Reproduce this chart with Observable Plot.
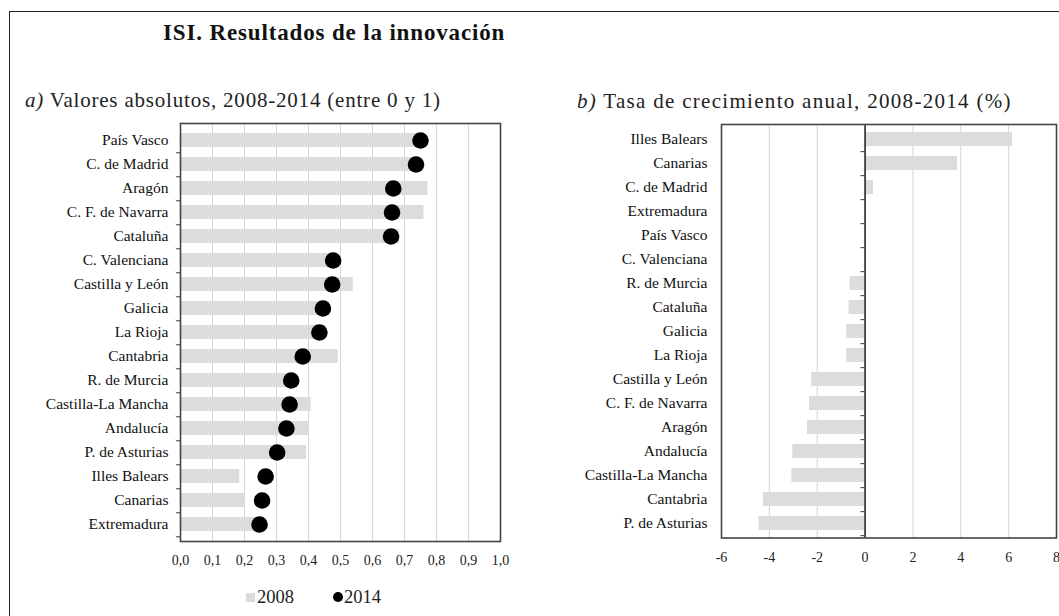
<!DOCTYPE html>
<html>
<head>
<meta charset="utf-8">
<script src="https://cdn.jsdelivr.net/npm/d3@7"></script>
<script src="https://cdn.jsdelivr.net/npm/@observablehq/plot@0.6"></script>
<style>
  html, body { margin: 0; padding: 0; background: #fff; overflow: hidden; }
  body { width: 1059px; height: 616px; position: relative; font-family: "Liberation Serif", "DejaVu Serif", serif; color: #1a1a1a; }
  .abs { position: absolute; white-space: nowrap; line-height: 1; }
  #border { position: absolute; left: 9px; top: 11px; width: 1200px; height: 800px; border: 1.5px solid #222; box-sizing: border-box; }
  #title { left: 163px; top: 21px; font-size: 23px; font-weight: bold; letter-spacing: 0.85px; color: #111; }
  .sub { font-size: 21px; color: #222; }
  #subA { left: 25px; top: 90px; letter-spacing: 0.8px; }
  #subB { left: 577px; top: 91px; letter-spacing: 1.3px; }
  #legend { left: 246px; top: 588px; font-size: 18.5px; color: #222; display: flex; align-items: center; }
  .sq { display: inline-block; width: 9px; height: 9px; background: #dcdcdc; margin-right: 2px; }
  .dt { display: inline-block; width: 10px; height: 10px; border-radius: 50%; background: #000; margin-left: 39px; margin-right: 1px; }
  #plotA { position: absolute; left: 0; top: 110px; }
  #plotB { position: absolute; left: 540px; top: 110px; }
</style>
</head>
<body>
<div id="border"></div>
<div id="title" class="abs">ISI. Resultados de la innovación</div>
<div id="subA" class="abs sub"><i>a)</i> Valores absolutos, 2008-2014 (entre 0 y 1)</div>
<div id="subB" class="abs sub"><i>b)</i> Tasa de crecimiento anual, 2008-2014 (%)</div>
<div id="plotA"></div>
<div id="plotB"></div>
<div id="legend" class="abs"><span class="sq"></span>2008<span class="dt"></span>2014</div>
<script>
// ---- Panel a) data ----
const regionsA = ["País Vasco", "C. de Madrid", "Aragón", "C. F. de Navarra", "Cataluña",
  "C. Valenciana", "Castilla y León", "Galicia", "La Rioja", "Cantabria", "R. de Murcia",
  "Castilla-La Mancha", "Andalucía", "P. de Asturias", "Illes Balears", "Canarias", "Extremadura"];
const values2008 = [0.745, 0.725, 0.773, 0.761, 0.685, 0.475, 0.540, 0.466, 0.455, 0.493, 0.358,
  0.408, 0.401, 0.394, 0.185, 0.203, 0.247];
const values2014 = [0.750, 0.736, 0.665, 0.661, 0.658, 0.477, 0.474, 0.445, 0.434, 0.382, 0.346,
  0.341, 0.331, 0.302, 0.266, 0.255, 0.247];
const ticksA = [0, 0.1, 0.2, 0.3, 0.4, 0.5, 0.6, 0.7, 0.8, 0.9, 1.0];

// ---- Panel b) data ----
const regionsB = ["Illes Balears", "Canarias", "C. de Madrid", "Extremadura", "País Vasco",
  "C. Valenciana", "R. de Murcia", "Cataluña", "Galicia", "La Rioja", "Castilla y León",
  "C. F. de Navarra", "Aragón", "Andalucía", "Castilla-La Mancha", "Cantabria", "P. de Asturias"];
const growthRate = [6.16, 3.86, 0.35, 0.0, 0.0, 0.0, -0.63, -0.67, -0.77, -0.77, -2.23,
  -2.32, -2.41, -3.02, -3.06, -4.25, -4.43];
const ticksB = [-6, -4, -2, 0, 2, 4, 6, 8];

const dataA = regionsA.map((r, i) => ({region: r, v2008: values2008[i], v2014: values2014[i]}));
const dataB = regionsB.map((r, i) => ({region: r, g: growthRate[i]}));

const font = '"Liberation Serif", "DejaVu Serif", serif';

// Panel a
{
  const height = 461, mt = 13, mb = 30;
  const step = (height - mt - mb) / regionsA.length;
  const p = Plot.plot({
    width: 510, height, marginLeft: 180, marginRight: 10, marginTop: mt, marginBottom: mb,
    style: {fontFamily: font, color: "#1a1a1a", background: "transparent", overflow: "visible"},
    x: {domain: [0, 1], axis: null, label: null},
    y: {domain: regionsA, paddingInner: 0.4, paddingOuter: 0.2, axis: null, label: null},
    marks: [
      Plot.ruleX(ticksA, {x: d => d, stroke: "#d6d6d6", strokeWidth: 1}),
      Plot.barX(dataA, {y: "region", x: "v2008", fill: "#dcdcdc"}),
      Plot.dot(dataA, {y: "region", x: "v2014", r: 8.3, fill: "#000"}),
      Plot.ruleY(regionsA, {y: d => d, x1: -0.012, x2: 0, dy: step / 2, stroke: "#333"}),
      Plot.frame({stroke: "#444", strokeWidth: 1.6}),
      Plot.axisX(ticksA, {tickSize: 0, tickPadding: 14, fontSize: 14, fill: "#222", label: null,
        tickFormat: d => d.toFixed(1).replace(".", ",")}),
      Plot.axisY({tickSize: 0, tickPadding: 12, fontSize: 15.5, fill: "#111", label: null})
    ]
  });
  document.getElementById("plotA").appendChild(p);
}

// Panel b
{
  const height = 461, mt = 14, mb = 33.5;
  const step = (height - mt - mb) / regionsB.length;
  const p = Plot.plot({
    width: 519, height, marginLeft: 181, marginRight: 3, marginTop: mt, marginBottom: mb,
    style: {fontFamily: font, color: "#1a1a1a", background: "transparent", overflow: "visible"},
    x: {domain: [-6, 8], axis: null, label: null},
    y: {domain: regionsB, paddingInner: 0.4, paddingOuter: 0.2, axis: null, label: null},
    marks: [
      Plot.ruleX(ticksB, {x: d => d, stroke: "#d6d6d6", strokeWidth: 1}),
      Plot.barX(dataB, {y: "region", x: "g", fill: "#dcdcdc"}),
      Plot.ruleX([0], {stroke: "#111", strokeWidth: 1.4}),
      Plot.ruleY(regionsB, {y: d => d, x1: -0.17, x2: 0, dy: step / 2, stroke: "#333"}),
      Plot.frame({stroke: "#444", strokeWidth: 1.6}),
      Plot.axisX(ticksB, {tickSize: 0, tickPadding: 14, fontSize: 14, fill: "#222", label: null,
        tickFormat: d => (d < 0 ? "-" + Math.abs(d) : String(d))}),
      Plot.axisY({tickSize: 0, tickPadding: 14, fontSize: 15.5, fill: "#111", label: null})
    ]
  });
  document.getElementById("plotB").appendChild(p);
}
</script>
</body>
</html>
